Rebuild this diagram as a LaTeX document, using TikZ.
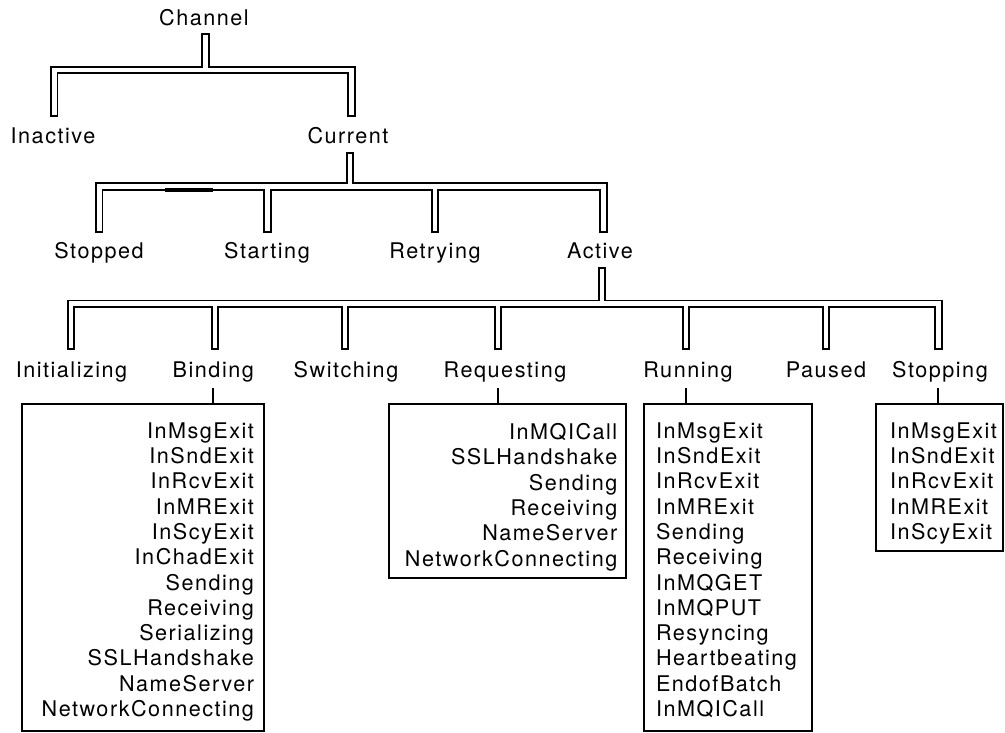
\documentclass[tikz,border=0pt]{standalone}
\usepackage{fontspec}
\setmainfont{TeX Gyre Heros}[LetterSpace=7]
\usetikzlibrary{calc}
\begin{document}
\begin{tikzpicture}[x=1pt,y=-1pt,
  lbl/.style={font=\fontsize{21.6}{25.3}\selectfont, inner sep=0pt, outer sep=0pt, text=black},
  state/.style={lbl, anchor=base},
  listR/.style={lbl, anchor=north east, align=right},
  listL/.style={lbl, anchor=north west, align=left},
  listbox/.style={draw, line width=2pt, inner sep=0pt, outer sep=0pt, anchor=north west},
  railout/.style={black, line width=8.4pt, line cap=rect, line join=miter},
  railin/.style={white, line width=4.6pt, line cap=rect, line join=miter},
  link/.style={line width=2pt}]
\useasboundingbox (0,0) rectangle (1005,733);

% ---- state labels ----
\node[state] (channel) at (204,25.4) {Channel};
\node[state] (inactive) at (53,143.6) {Inactive};
\node[state] (current) at (348,143.6) {Current};
\node[state] (stopped) at (99,258.6) {Stopped};
\node[state] (starting) at (267,258.6) {Starting};
\node[state] (retrying) at (435,258.6) {Retrying};
\node[state] (active) at (600,258.6) {Active};
\node[state] (init) at (71.5,377.4) {Initializing};
\node[state] (binding) at (213.3,377.4) {Binding};
\node[state] (switching) at (346,377.4) {Switching};
\node[state] (requesting) at (505,377.4) {Requesting};
\node[state] (running) at (688,377.4) {Running};
\node[state] (paused) at (826,377.4) {Paused};
\node[state] (stopping) at (940,377.4) {Stopping};

% ---- rail anchor points ----
\coordinate (r1top) at (205.5,37.5);  \coordinate (r1bar) at (205.5,69.9);
\coordinate (r1a) at (54.2,112.5);    \coordinate (r1b) at (351.5,112.5);

\coordinate (r2top) at (350,155.9);   \coordinate (r2bar) at (350,186.6);
\coordinate (r2a) at (99.2,228.5);    \coordinate (r2b) at (267.5,228.5);
\coordinate (r2c) at (435,228.5);     \coordinate (r2d) at (603.5,228.5);

\coordinate (r3top) at (602,271.2);   \coordinate (r3bar) at (602,303.7);
\coordinate (r3a) at (70.9,346.1);    \coordinate (r3b) at (215,346.1);
\coordinate (r3c) at (345,346.1);     \coordinate (r3d) at (498,346.1);
\coordinate (r3e) at (686,346.1);     \coordinate (r3f) at (826,346.1);
\coordinate (r3g) at (938.5,346.1);

% ---- double-line rails: black body first, white core second ----
\foreach \pass in {railout,railin}{
  \draw[\pass] (r1top) -- (r1bar);
  \draw[\pass] (r1a) |- (r1bar) -| (r1b);

  \draw[\pass] (r2top) -- (r2bar);
  \draw[\pass] (r2a) |- (r2bar) -| (r2d);
  \foreach \leg in {r2b,r2c} \draw[\pass] (\leg) -- (\leg |- r2bar);

  \draw[\pass] (r3top) -- (r3bar);
  \draw[\pass] (r3a) |- (r3bar) -| (r3g);
  \foreach \leg in {r3b,r3c,r3d,r3e,r3f} \draw[\pass] (\leg) -- (\leg |- r3bar);
}
% heavy mark on the inner edge of the second rail
\fill[black] (165,188.2) rectangle (213.3,191.6);

% ---- sub-state boxes ----
\node[listbox, minimum width=242.3pt, minimum height=326.7pt] (bindbox) at (21.7,404.3) {};
\node[listbox, minimum width=236.4pt, minimum height=174pt] (reqbox) at (389.3,404.3) {};
\node[listbox, minimum width=168pt, minimum height=326.7pt] (runbox) at (643.7,404.3) {};
\node[listbox, minimum width=126.5pt, minimum height=146.4pt] (stopbox) at (876,404.3) {};

\coordinate (bindlink) at (213.3,388.3);
\coordinate (reqlink) at (498.3,388.3);
\coordinate (runlink) at (686,388.3);
\coordinate (stoplink) at (938.3,388.3);
\draw[link] (bindlink) -- (bindlink |- bindbox.north);
\draw[link] (reqlink) -- (reqlink |- reqbox.north);
\draw[link] (runlink) -- (runlink |- runbox.north);
\draw[link] (stoplink) -- (stoplink |- stopbox.north);

\node[listR] (bindlist) at (254,422.5) {InMsgExit\\InSndExit\\InRcvExit\\InMRExit\\InScyExit\\InChadExit\\Sending\\Receiving\\Serializing\\SSLHandshake\\NameServer\\NetworkConnecting};
\node[listR] (reqlist) at (617.3,423.5) {InMQICall\\SSLHandshake\\Sending\\Receiving\\NameServer\\NetworkConnecting};
\node[listL] (runlist) at (656,422.5) {InMsgExit\\InSndExit\\InRcvExit\\InMRExit\\Sending\\Receiving\\InMQGET\\InMQPUT\\Resyncing\\Heartbeating\\EndofBatch\\InMQICall};
\node[listL] (stoplist) at (890,422.5) {InMsgExit\\InSndExit\\InRcvExit\\InMRExit\\InScyExit};
\end{tikzpicture}
\end{document}
